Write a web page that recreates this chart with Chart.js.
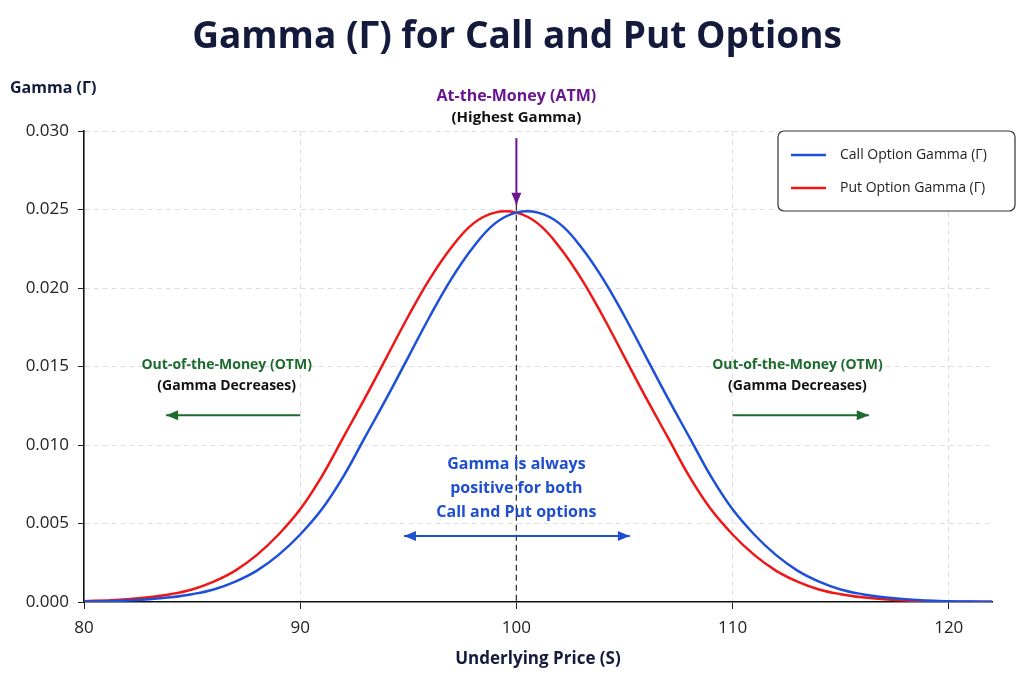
<!DOCTYPE html>
<html>
<head>
<meta charset="utf-8">
<script src="https://cdn.jsdelivr.net/npm/chart.js@4.4.1/dist/chart.umd.min.js"></script>
<style>
  html, body { margin: 0; padding: 0; background: #fff; }
  #wrap { width: 1024px; height: 683px; position: relative; }
</style>
</head>
<body>
<div id="wrap"><canvas id="myChart"></canvas></div>
<script>
// DATA
const prices = [80, 81, 82, 83, 84, 85, 86, 87, 88, 89, 90, 91, 92, 93, 94, 95, 96, 97, 98, 99, 100,
	101, 102, 103, 104, 105, 106, 107, 108, 109, 110, 111, 112, 113, 114, 115, 116, 117, 118, 119, 120, 121, 122];

const callGamma = [0.00003, 0.00005, 0.0001, 0.00017, 0.0003, 0.0005, 0.0008, 0.0013, 0.0020, 0.0030, 0.0043,
	0.0059, 0.0080, 0.0105, 0.0130, 0.0156, 0.0182, 0.0206, 0.0226, 0.0241, 0.0248,
	0.0248, 0.0241, 0.0226, 0.0206, 0.0182, 0.0156, 0.0130, 0.0105, 0.0080, 0.0059,
	0.0043, 0.0030, 0.0020, 0.0013, 0.0008, 0.0005, 0.0003, 0.00017, 0.0001, 0.00005, 0.00003, 0.00001];

const putGamma = [0.00005, 0.0001, 0.00017, 0.0003, 0.0005, 0.0008, 0.0013, 0.0020, 0.0030, 0.0043, 0.0059,
	0.0080, 0.0105, 0.0130, 0.0156, 0.0182, 0.0206, 0.0226, 0.0241, 0.0248, 0.0248,
	0.0241, 0.0226, 0.0206, 0.0182, 0.0156, 0.0130, 0.0105, 0.0080, 0.0059, 0.0043,
	0.0030, 0.0020, 0.0013, 0.0008, 0.0005, 0.0003, 0.00017, 0.0001, 0.00005, 0.00003, 0.00001, 0.00001];

const seriesLabels = ['Call Option Gamma (Γ)', 'Put Option Gamma (Γ)'];
const seriesColors = ['#1d4fd8', '#f01616'];

const FONT = '"Open Sans", "Noto Sans", sans-serif';
const NAVY = '#141a3c';

// little helper for arrows
const drawArrow = (ctx, x1, y1, x2, y2, color, both) => {
	const head = (fx, fy, tx, ty) => {
		const a = Math.atan2(ty - fy, tx - fx);
		ctx.beginPath();
		ctx.moveTo(tx, ty);
		ctx.lineTo(tx - 12 * Math.cos(a) + 5 * Math.sin(a), ty - 12 * Math.sin(a) - 5 * Math.cos(a));
		ctx.lineTo(tx - 12 * Math.cos(a) - 5 * Math.sin(a), ty - 12 * Math.sin(a) + 5 * Math.cos(a));
		ctx.closePath();
		ctx.fill();
	};
	ctx.save();
	ctx.strokeStyle = color;
	ctx.fillStyle = color;
	ctx.lineWidth = 2;
	ctx.beginPath();
	ctx.moveTo(x1, y1);
	ctx.lineTo(x2, y2);
	ctx.stroke();
	head(x1, y1, x2, y2);
	if (both) head(x2, y2, x1, y1);
	ctx.restore();
};

const label = (ctx, text, x, y, color, size, weight, align) => {
	ctx.save();
	ctx.fillStyle = color;
	ctx.font = (weight || 'bold') + ' ' + size + 'px ' + FONT;
	ctx.textAlign = align || 'center';
	ctx.textBaseline = 'middle';
	ctx.fillText(text, x, y);
	ctx.restore();
};

const annotate = {
	id: 'annotate',
	beforeDatasetsDraw(chart) {
		const { ctx, scales: { x, y } } = chart;
		// ATM dashed line
		ctx.save();
		ctx.strokeStyle = '#333';
		ctx.lineWidth = 1.3;
		ctx.setLineDash([6, 4]);
		ctx.beginPath();
		ctx.moveTo(x.getPixelForValue(100), y.getPixelForValue(0.0253));
		ctx.lineTo(x.getPixelForValue(100), y.getPixelForValue(0));
		ctx.stroke();
		ctx.restore();
	},
	afterDraw(chart) {
		const { ctx, chartArea, scales: { x, y } } = chart;
		const X = v => x.getPixelForValue(v);
		const Y = v => y.getPixelForValue(v);

		label(ctx, 'Gamma (Γ) for Call and Put Options', 517, 37, NAVY, 37, 'bold');
		label(ctx, 'Gamma (Γ)', 10, 88, NAVY, 16, 'bold', 'left');

		// ATM
		label(ctx, 'At-the-Money (ATM)', X(100), Y(0.03217), '#6b1590', 16, 'bold');
		label(ctx, '(Highest Gamma)', X(100), Y(0.03083), '#111', 15, 'bold');
		drawArrow(ctx, X(100), Y(0.02955), X(100), Y(0.0253), '#6b1590');

		// OTM left
		label(ctx, 'Out-of-the-Money (OTM)', X(86.6), Y(0.0151), '#1e6b2e', 14, 'bold');
		label(ctx, '(Gamma Decreases)', X(86.6), Y(0.01376), '#111', 14, 'bold');
		drawArrow(ctx, X(90), Y(0.0119), X(83.8), Y(0.0119), '#1e6b2e');

		// OTM right
		label(ctx, 'Out-of-the-Money (OTM)', X(113), Y(0.0151), '#1e6b2e', 14, 'bold');
		label(ctx, '(Gamma Decreases)', X(113), Y(0.01376), '#111', 14, 'bold');
		drawArrow(ctx, X(110), Y(0.0119), X(116.3), Y(0.0119), '#1e6b2e');

		// always positive
		label(ctx, 'Gamma is always', X(100), Y(0.00879), '#1d4fd0', 16, 'bold');
		label(ctx, 'positive for both', X(100), Y(0.00726), '#1d4fd0', 16, 'bold');
		label(ctx, 'Call and Put options', X(100), Y(0.00573), '#1d4fd0', 16, 'bold');
		drawArrow(ctx, X(94.8), Y(0.0042), X(105.25), Y(0.0042), '#1d4fd0', true);

		// legend box
		const bx = chartArea.right - 214, by = chartArea.top, bw = 237, bh = 80;
		ctx.save();
		ctx.fillStyle = '#fff';
		ctx.strokeStyle = '#333';
		ctx.lineWidth = 1.2;
		ctx.beginPath();
		ctx.roundRect(bx, by, bw, bh, 6);
		ctx.fill();
		ctx.stroke();
		seriesLabels.forEach((txt, i) => {
			const ly = by + 24 + i * 33;
			ctx.strokeStyle = seriesColors[i];
			ctx.lineWidth = 2.5;
			ctx.beginPath();
			ctx.moveTo(bx + 13, ly);
			ctx.lineTo(bx + 48, ly);
			ctx.stroke();
			label(ctx, txt, bx + 62, ly, '#222', 14, 'normal', 'left');
		});
		ctx.restore();
	}
};

const ctx = document.getElementById('myChart');

new Chart(ctx, {
	type: 'line',
	data: {
		datasets: [
			{
				label: seriesLabels[0],
				data: prices.map((p, i) => ({ x: p, y: callGamma[i] })),
				borderColor: seriesColors[0],
				borderWidth: 2.5,
				pointRadius: 0,
				tension: 0.4,
				fill: false
			},
			{
				label: seriesLabels[1],
				data: prices.map((p, i) => ({ x: p, y: putGamma[i] })),
				borderColor: seriesColors[1],
				borderWidth: 2.5,
				pointRadius: 0,
				tension: 0.4,
				fill: false
			}
		]
	},
	options: {
		responsive: true,
		maintainAspectRatio: false,
		animation: false,
		layout: {
			padding: { top: 131, right: 32, left: 0, bottom: 0 }
		},
		plugins: {
			legend: { display: false },
			tooltip: { enabled: false }
		},
		scales: {
			x: {
				type: 'linear',
				min: 80,
				max: 122,
				afterFit: scale => { scale.height = 81; },
				ticks: {
					stepSize: 10,
					includeBounds: false,
					color: '#222',
					padding: 9,
					font: { family: FONT, size: 17 }
				},
				grid: {
					color: ctx => (ctx.tick && (ctx.tick.value === 80 || ctx.tick.value === 100)) ? 'rgba(0,0,0,0)' : '#dcdce6',
					tickColor: '#222',
					tickLength: 7,
					tickBorderDash: [],
					lineWidth: 1
				},
				border: { color: '#111', width: 1.6, dash: [5, 4] },
				title: {
					display: true,
					text: 'Underlying Price (S)',
					color: NAVY,
					padding: { top: 4, bottom: 14 },
					font: { family: FONT, size: 17, weight: 'bold' }
				}
			},
			y: {
				min: 0,
				max: 0.03,
				afterFit: scale => { scale.width = 84; },
				ticks: {
					stepSize: 0.005,
					color: '#222',
					padding: 9,
					callback: v => v.toFixed(3),
					font: { family: FONT, size: 17 }
				},
				grid: {
					color: ctx => (ctx.tick && ctx.tick.value === 0) ? 'rgba(0,0,0,0)' : '#dcdce8',
					tickColor: '#222',
					tickLength: 6,
					tickBorderDash: [],
					lineWidth: 1
				},
				border: { color: '#111', width: 1.6, dash: [5, 4] }
			}
		}
	},
	plugins: [annotate]
});
</script>
</body>
</html>
